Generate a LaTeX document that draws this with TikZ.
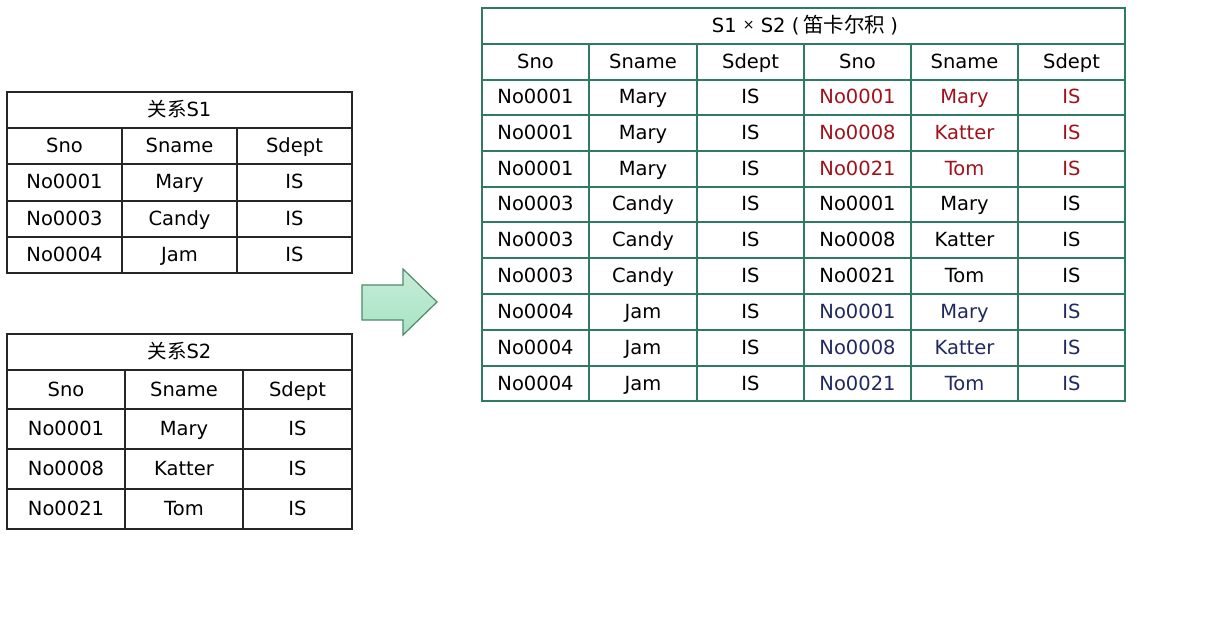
\documentclass[tikz,border=0pt]{standalone}
\usepackage{fontspec}
\setmainfont{DejaVu Sans}
\newfontfamily\cjk{Noto Sans CJK SC}
\definecolor{tgreen}{HTML}{2F7A63}
\definecolor{tred}{HTML}{A0121C}
\definecolor{tblue}{HTML}{1F2A60}
\definecolor{agreen}{HTML}{4F8A6C}
\begin{document}
\begin{tikzpicture}[x=1pt,y=-1pt,
  cell/.style={anchor=base, inner sep=0pt, font=\fontsize{19.5}{22}\selectfont},
  bline/.style={draw=black!85, line width=1.8pt},
  gline/.style={draw=tgreen, line width=1.8pt}]
\fill[white] (0,0) rectangle (1212,628);
\useasboundingbox (0,0) rectangle (1212,628);

% ---------- table S1 ----------
\draw[bline] (7,92) rectangle (352,273);
\foreach \y in {128,164,201,237} \draw[bline] (7,\y) -- (352,\y);
\foreach \x in {122,237} \draw[bline] (\x,128) -- (\x,273);
\node[cell] (s1title) at (179.5,116.5) {{\cjk 关系}S1};
\foreach \cy/\a/\b/\c [count=\r] in {146/Sno/Sname/Sdept,182.5/No0001/Mary/IS,219/No0003/Candy/IS,255/No0004/Jam/IS}{
  \node[cell] (s1-\r-1) at (64.5,\cy+6.5) {\a};
  \node[cell] (s1-\r-2) at (179.5,\cy+6.5) {\b};
  \node[cell] (s1-\r-3) at (294.5,\cy+6.5) {\c};
}

% ---------- table S2 ----------
\draw[bline] (7,334) rectangle (352,529);
\foreach \y in {370,409,449,489} \draw[bline] (7,\y) -- (352,\y);
\foreach \x in {125,243} \draw[bline] (\x,370) -- (\x,529);
\node[cell] (s2title) at (179.5,358.5) {{\cjk 关系}S2};
\foreach \cy/\a/\b/\c [count=\r] in {389.5/Sno/Sname/Sdept,429/No0001/Mary/IS,469/No0008/Katter/IS,509/No0021/Tom/IS}{
  \node[cell] (s2-\r-1) at (66,\cy+6.5) {\a};
  \node[cell] (s2-\r-2) at (184,\cy+6.5) {\b};
  \node[cell] (s2-\r-3) at (297.5,\cy+6.5) {\c};
}

% ---------- arrow ----------
\draw[agreen, line width=1.2pt, top color=green!8!white!85!teal, bottom color=green!40!teal!35!white]
  (362,285) -- (403,285) -- (403,269) -- (437,302) -- (403,335) -- (403,320) -- (362,320) -- cycle;

% ---------- product table ----------
\draw[gline] (482,8) rectangle (1125,401);
\foreach \y in {44,80,115,151,187,222,258,294,330,366} \draw[gline] (482,\y) -- (1125,\y);
\foreach \x in {589,697,804,911,1018} \draw[gline] (\x,44) -- (\x,401);
\node[cell] (ptitle) at (805,32.5) {S1 \raisebox{2.5pt}{\fontsize{14}{16}\selectfont ×} S2 (\hspace{4pt}{\cjk\fontsize{20.5}{22}\selectfont 笛卡尔积}\hspace{5pt})};
\foreach \cy/\col/\a/\b/\c/\d/\e/\f [count=\r] in {
  62/black/Sno/Sname/Sdept/Sno/Sname/Sdept,
  97.5/tred/No0001/Mary/IS/No0001/Mary/IS,
  133/tred/No0001/Mary/IS/No0008/Katter/IS,
  169/tred/No0001/Mary/IS/No0021/Tom/IS,
  204.5/black/No0003/Candy/IS/No0001/Mary/IS,
  240/black/No0003/Candy/IS/No0008/Katter/IS,
  276/black/No0003/Candy/IS/No0021/Tom/IS,
  312/tblue/No0004/Jam/IS/No0001/Mary/IS,
  348/tblue/No0004/Jam/IS/No0008/Katter/IS,
  383.5/tblue/No0004/Jam/IS/No0021/Tom/IS}{
  \node[cell] (p-\r-1) at (535.5,\cy+6.5) {\a};
  \node[cell] (p-\r-2) at (643,\cy+6.5) {\b};
  \node[cell] (p-\r-3) at (750.5,\cy+6.5) {\c};
  \node[cell, text=\col] (p-\r-4) at (857.5,\cy+6.5) {\d};
  \node[cell, text=\col] (p-\r-5) at (964.5,\cy+6.5) {\e};
  \node[cell, text=\col] (p-\r-6) at (1071.5,\cy+6.5) {\f};
}
\end{tikzpicture}
\end{document}
